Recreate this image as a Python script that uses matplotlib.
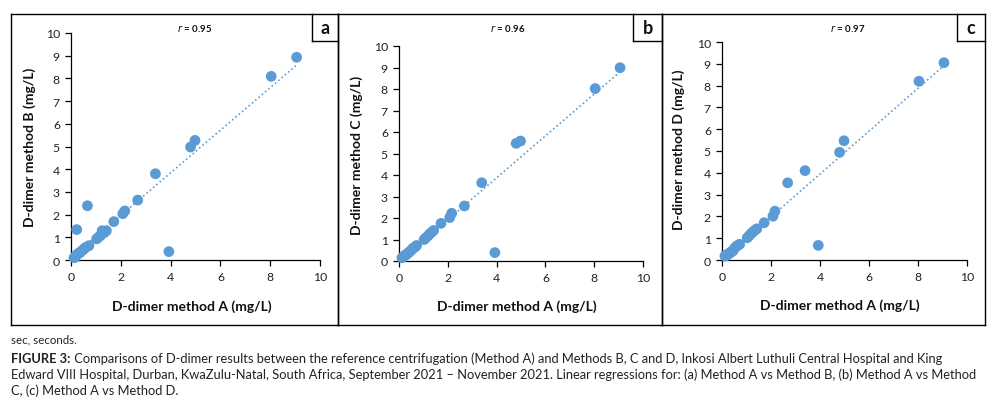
import numpy as np
import matplotlib
matplotlib.use("Agg")
import matplotlib.pyplot as plt
from matplotlib.lines import Line2D

# ---------------- data ----------------
method_a = [0.12, 0.16, 0.20, 0.23, 0.28, 0.33, 0.38, 0.45, 0.52, 0.58, 0.66, 0.72,
            1.03, 1.10, 1.18, 1.25, 1.33, 1.42, 1.72, 2.08, 2.16, 2.68, 3.39, 3.93,
            4.80, 4.98, 8.04, 9.06]
method_b = [0.10, 0.12, 0.20, 1.34, 0.28, 0.30, 0.35, 0.42, 0.48, 0.55, 2.39, 0.63,
            0.93, 1.00, 1.07, 1.29, 1.20, 1.29, 1.69, 2.04, 2.16, 2.64, 3.80, 0.37,
            4.98, 5.27, 8.09, 8.93]
method_c = [0.15, 0.18, 0.22, 0.25, 0.28, 0.32, 0.38, 0.44, 0.52, 0.60, 0.65, 0.72,
            1.00, 1.08, 1.16, 1.25, 1.33, 1.42, 1.75, 2.02, 2.22, 2.56, 3.64, 0.39,
            5.47, 5.58, 8.02, 8.99]
method_d = [0.18, 0.20, 0.22, 0.26, 0.30, 0.32, 0.38, 0.42, 0.55, 0.62, 0.68, 0.72,
            1.02, 1.10, 1.20, 1.28, 1.35, 1.43, 1.71, 2.01, 2.24, 3.54, 4.10, 0.67,
            4.94, 5.47, 8.20, 9.05]

panel_letters = ["a", "b", "c"]
r_values = ["0.95", "0.96", "0.97"]
y_labels = ["D-dimer method B (mg/L)", "D-dimer method C (mg/L)", "D-dimer method D (mg/L)"]
x_label = "D-dimer method A (mg/L)"
x_ticks = [0, 2, 4, 6, 8, 10]
y_ticks = [0, 1, 2, 3, 4, 5, 6, 7, 8, 9, 10]
footnote = "sec, seconds."
caption_bold = "FIGURE 3:"
caption_lines = [
    " Comparisons of D-dimer results between the reference centrifugation (Method A) and Methods B, C and D, Inkosi Albert Luthuli Central Hospital and King",
    "Edward VIII Hospital, Durban, KwaZulu-Natal, South Africa, September 2021 \u2013 November 2021. Linear regressions for: (a) Method A vs Method B, (b) Method A vs Method",
    "C, (c) Method A vs Method D.",
]

# ---------------- style ----------------
BLUE = "#5B9BD5"
FONT = ["Lato", "DejaVu Sans"]
plt.rcParams["font.family"] = FONT

W, H = 996, 410
fig = plt.figure(figsize=(W / 100, H / 100), dpi=100)


def fx(px):
    return px / W


def fy(py):
    return 1 - py / H


panels = [
    dict(ax=(71, 320, 34, 261), frame=(11, 338), box=(312, 338), r_x=195, ylab=(30, 147), xlab=(192, 307)),
    dict(ax=(399, 643, 47, 262), frame=(338, 662), box=(633, 662), r_x=508, ylab=(357, 155), xlab=(517, 307)),
    dict(ax=(722, 967, 43, 261), frame=(662, 985), box=(957, 985), r_x=848, ylab=(679, 150), xlab=(840, 306)),
]
ys = [method_b, method_c, method_d]

FR_TOP, FR_BOT, BOX_BOT = 15, 326, 42

for i, p in enumerate(panels):
    x0, x1, yt, yb = p["ax"]
    ax = fig.add_axes([fx(x0), fy(yb), fx(x1) - fx(x0), fy(yt) - fy(yb)])
    xa = np.array(method_a)
    ya = np.array(ys[i])
    ax.scatter(xa, ya, s=60, color=BLUE, edgecolors="none", zorder=3, clip_on=False)
    k, b = np.polyfit(xa, ya, 1)
    xl = np.array([xa.min(), xa.max()])
    ax.plot(xl, k * xl + b, linestyle=(0, (1, 1.6)), color=BLUE, lw=1.2, zorder=2)
    ax.set_xlim(0, 10)
    ax.set_ylim(0, 10)
    ax.set_xticks(x_ticks)
    ax.set_yticks(y_ticks)
    for s in ["top", "right"]:
        ax.spines[s].set_visible(False)
    for s in ["left", "bottom"]:
        ax.spines[s].set_color("#000000")
        ax.spines[s].set_linewidth(0.9)
    ax.tick_params(direction="out", length=4, width=0.9, colors="#000000",
                   labelcolor="#222222", labelsize=8.8, pad=4)
    ax.set_xlabel(x_label, fontsize=10, fontweight="bold", color="#111111")
    ax.set_ylabel(y_labels[i], fontsize=10, fontweight="bold", color="#111111")
    ax.xaxis.set_label_coords(fx(p["xlab"][0]), fy(p["xlab"][1]), transform=fig.transFigure)
    ax.yaxis.set_label_coords(fx(p["ylab"][0]), fy(p["ylab"][1]), transform=fig.transFigure)
    ax.xaxis.label.set_va("center")
    ax.yaxis.label.set_va("center")
    ax.patch.set_alpha(0)

    # r annotation
    fig.text(fx(p["r_x"]), fy(28), r"$\it{r}$" + " = " + r_values[i], ha="center", va="center",
             fontsize=7, fontweight="bold", color="#111111")

    # panel frame
    fl, fr = p["frame"]
    bl, br = p["box"]
    lw = 1.0
    fig.add_artist(Line2D([fx(fl), fx(fr)], [fy(FR_TOP), fy(FR_TOP)], color="black", lw=lw))
    fig.add_artist(Line2D([fx(fl), fx(fr)], [fy(FR_BOT), fy(FR_BOT)], color="black", lw=lw))
    fig.add_artist(Line2D([fx(fl), fx(fl)], [fy(FR_TOP), fy(FR_BOT)], color="black", lw=lw))
    fig.add_artist(Line2D([fx(fr), fx(fr)], [fy(FR_TOP), fy(FR_BOT)], color="black", lw=lw))
    # letter box
    fig.add_artist(Line2D([fx(bl), fx(bl)], [fy(FR_TOP), fy(BOX_BOT)], color="black", lw=lw))
    fig.add_artist(Line2D([fx(bl), fx(br)], [fy(BOX_BOT), fy(BOX_BOT)], color="black", lw=lw))
    fig.text(fx((bl + br) / 2), fy(28.5), panel_letters[i], ha="center", va="center",
             fontsize=13, fontweight="bold", color="#111111")

# ---------------- caption ----------------
CAP_COLOR = "#222222"
fig.text(fx(11), fy(340), footnote, ha="left", va="center", fontsize=8.3, color=CAP_COLOR)

base = 9.0
t_bold = fig.text(fx(11), fy(359), caption_bold, ha="left", va="center", fontsize=base,
                  fontweight="bold", color=CAP_COLOR)
t_rest = fig.text(fx(11), fy(359), caption_lines[0], ha="left", va="center", fontsize=base, color=CAP_COLOR)
t2 = fig.text(fx(11), fy(375), caption_lines[1], ha="left", va="center", fontsize=base, color=CAP_COLOR)
t3 = fig.text(fx(11), fy(391), caption_lines[2], ha="left", va="center", fontsize=base, color=CAP_COLOR)

fig.canvas.draw()
r = fig.canvas.get_renderer()
wb = t_bold.get_window_extent(r).width
wr = t_rest.get_window_extent(r).width
w2 = t2.get_window_extent(r).width
scale = min(974 / (wb + wr), 974 / w2)
size = base * scale
for t in (t_bold, t_rest, t2, t3):
    t.set_fontsize(size)
fig.canvas.draw()
wb = t_bold.get_window_extent(r).width
t_rest.set_x(fx(11 + wb))

fig.savefig("out.png", dpi=100, facecolor="white")
